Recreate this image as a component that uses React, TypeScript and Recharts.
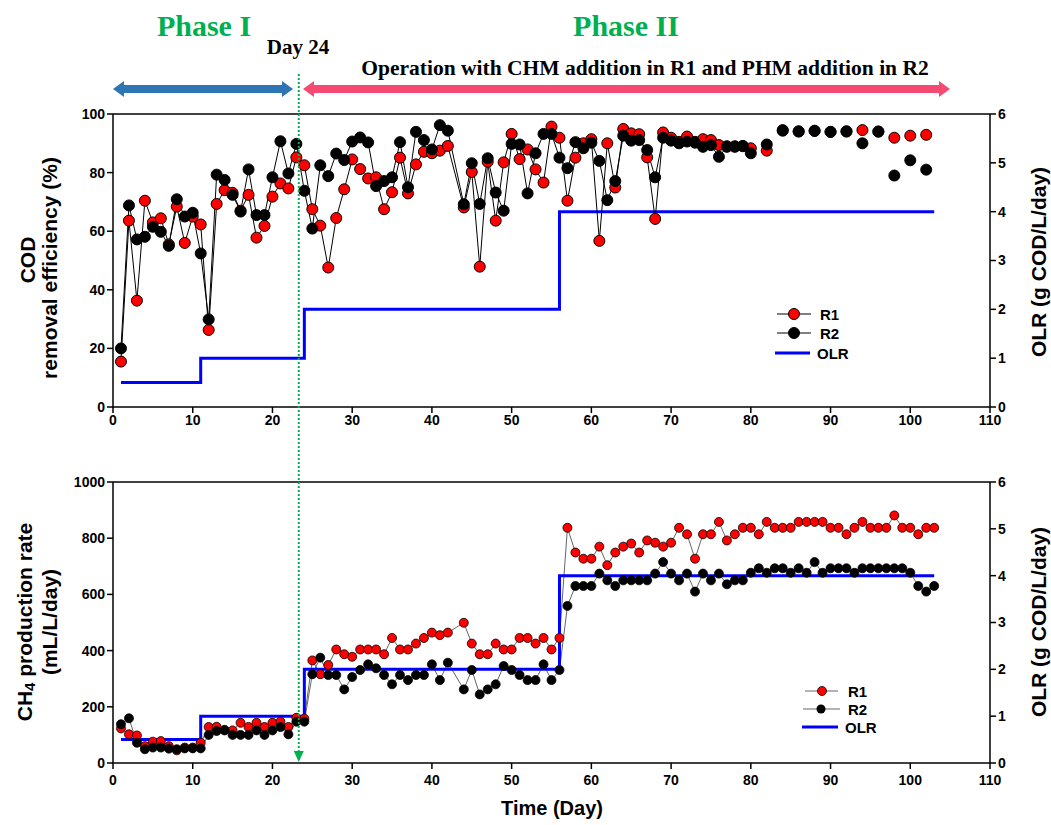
import { ComposedChart, Line, XAxis, YAxis, ReferenceLine } from "recharts";

// ---- data ----
// COD removal efficiency (%), connected part: day 1..80 (no sample on day 43)
const codDays = [
  1, 2, 3, 4, 5, 6, 7, 8, 9, 10, 11, 12, 13, 14, 15, 16, 17, 18, 19, 20, 21, 22, 23, 24, 25, 26, 27, 28, 29, 30,
  31, 32, 33, 34, 35, 36, 37, 38, 39, 40, 41, 42, 44, 45, 46, 47, 48, 49, 50, 51, 52, 53, 54, 55, 56, 57, 58, 59, 60,
  61, 62, 63, 64, 65, 66, 67, 68, 69, 70, 71, 72, 73, 74, 75, 76, 77, 78, 79, 80,
];
const codR1 = [
  15.5, 63.6, 36.3, 70.4, 63, 64.4, 55.5, 68.4, 56, 65, 62.3, 26.3, 69.3, 74, 73.1, 67, 72.4, 57.8, 61.8, 71.8, 76.3,
  74.6, 85.2, 82.5, 67.5, 61.9, 47.6, 64.5, 74.3, 84.5, 81.2, 78, 78.4, 67.5, 73.3, 85.1, 72.9, 82.8, 87.1, 86.6, 87.5,
  89.1, 68.1, 80.2, 47.9, 83.7, 63.6, 83.5, 93.2, 84.6, 87.9, 81.1, 76.6, 95.7, 91.9, 70.4, 85.1, 90, 91.4, 56.7, 90,
  74.9, 94.9, 93.4, 93.1, 85.2, 64.2, 93.7, 91.9, 90.5, 92.3, 90.5, 91.4, 91.1, 89.4, 89, 89, 89, 88.3,
];
const codR2 = [
  20, 68.8, 57.2, 58.1, 61.5, 59.8, 55, 70.9, 65, 66.3, 52.4, 29.9, 79.3, 77.5, 72.4, 66.7, 81.1, 65.5, 65.5, 78.4,
  90.7, 79.7, 89.8, 73.8, 60.9, 82.5, 78.8, 86.5, 84.3, 90.6, 92, 90.3, 75.4, 77.1, 78.4, 90.4, 75, 93.9, 91.1, 87.9,
  96.2, 94.3, 69.2, 83.2, 69.3, 84.9, 73.2, 67, 89.8, 89.6, 72.9, 86.6, 93.2, 93.2, 85.1, 81.5, 90.4, 88.3, 90.2, 84,
  70.6, 77.1, 92.6, 90.9, 91.1, 87.7, 78.4, 91.9, 90.9, 90, 90.6, 90.2, 88.8, 89.4, 85.4, 88.8, 88.8, 89.1, 86.6,
];
// separate samples after day 80 (not joined by lines)
const codLateDays = [82, 84, 86, 88, 90, 92, 94, 96, 98, 100, 102];
const codLateR1 = [87.5, 94.5, 94, 94.2, 93.9, 94, 94.5, 94, 91.9, 92.6, 92.9];
const codLateR2 = [89.6, 94.3, 94.1, 94.3, 93.9, 94.1, 90, 94, 79, 84.2, 81];

// CH4 production rate (mL/L/day): day 1..103 (no sample on day 43)
const ch4Days = [
  1, 2, 3, 4, 5, 6, 7, 8, 9, 10, 11, 12, 13, 14, 15, 16, 17, 18, 19, 20, 21, 22, 23, 24, 25, 26, 27, 28, 29, 30,
  31, 32, 33, 34, 35, 36, 37, 38, 39, 40, 41, 42, 44, 45, 46, 47, 48, 49, 50, 51, 52, 53, 54, 55, 56, 57, 58, 59, 60,
  61, 62, 63, 64, 65, 66, 67, 68, 69, 70, 71, 72, 73, 74, 75, 76, 77, 78, 79, 80, 81, 82, 83, 84, 85, 86, 87, 88, 89,
  90, 91, 92, 93, 94, 95, 96, 97, 98, 99, 100, 101, 102, 103,
];
const ch4R1 = [
  123, 102, 98, 60, 76, 78, 60, 45, 55, 55, 72, 128, 129, 118, 116, 143, 128, 143, 128, 143, 147, 128, 161, 158, 365,
  316, 349, 404, 387, 378, 404, 404, 404, 387, 445, 404, 404, 425, 445, 464, 455, 464, 499, 425, 387, 387, 425, 404,
  404, 445, 445, 425, 445, 404, 445, 837, 749, 727, 727, 770, 704, 749, 770, 781, 749, 792, 784, 770, 784, 837, 814,
  727, 814, 814, 858, 792, 814, 837, 837, 814, 858, 837, 837, 837, 858, 858, 858, 858, 837, 837, 814, 837, 858, 837,
  837, 837, 881, 837, 837, 814, 837, 837,
];
const ch4R2 = [
  138, 159, 72, 49, 55, 55, 51, 49, 52, 52, 52, 100, 114, 116, 100, 100, 100, 116, 100, 116, 128, 102, 147, 147, 316,
  375, 313, 313, 262, 306, 331, 351, 337, 313, 280, 313, 295, 313, 313, 351, 295, 357, 262, 331, 244, 262, 280, 345,
  331, 313, 295, 295, 351, 295, 331, 559, 630, 630, 630, 674, 650, 630, 650, 650, 650, 650, 674, 715, 674, 650, 674,
  610, 674, 650, 674, 636, 650, 650, 677, 693, 677, 693, 693, 677, 693, 677, 715, 677, 693, 693, 693, 677, 693, 693,
  693, 693, 693, 693, 677, 630, 610, 630,
];

// organic loading rate steps (g COD/L/day)
const olrDays = [1, 11, 24, 56, 103];
const olrValues = [0.5, 1, 2, 4, 4];

const xTicks = [0, 10, 20, 30, 40, 50, 60, 70, 80, 90, 100, 110];
const codTicks = [0, 20, 40, 60, 80, 100];
const ch4Ticks = [0, 200, 400, 600, 800, 1000];
const olrTicks = [0, 1, 2, 3, 4, 5, 6];

const PHASE2_START = 23.3; // dotted marker "Day 24"

const zip = (days: number[], vals: number[]) => days.map((day, i) => ({ day, v: vals[i] }));

const codR1Data = zip(codDays, codR1);
const codR2Data = zip(codDays, codR2);
const codLateR1Data = zip(codLateDays, codLateR1);
const codLateR2Data = zip(codLateDays, codLateR2);
const ch4R1Data = zip(ch4Days, ch4R1);
const ch4R2Data = zip(ch4Days, ch4R2);
const olrData = zip(olrDays, olrValues);

// ---- layout ----
const W = 1051;
const PLOT_L = 113;
const PLOT_R = 990;
const AXIS_W = 60;
const sans = "'Liberation Sans', Arial, sans-serif";
const serif = "'Liberation Serif', 'Times New Roman', serif";
const tickStyle = { fill: "#000", fontSize: 14, fontWeight: "bold", fontFamily: sans };
const dayToX = (d: number) => PLOT_L + ((PLOT_R - PLOT_L) * d) / 110;

function arrow(x1: number, x2: number, y: number) {
  const s = 4, h = 8, L = 11;
  return `M${x1},${y} L${x1 + L},${y - h} L${x1 + L},${y - s} L${x2 - L},${y - s} L${x2 - L},${y - h} L${x2},${y} L${x2 - L},${y + h} L${x2 - L},${y + s} L${x1 + L},${y + s} L${x1 + L},${y + h} Z`;
}

export default function App() {
  const axisProps = { stroke: "#000", strokeWidth: 1.5, tickSize: 6 };
  const markX = dayToX(PHASE2_START);

  return (
    <div style={{ position: "absolute", left: 0, top: 0, width: W, height: 825, background: "#fff" }}>
      {/* COD removal efficiency */}
      <div style={{ position: "absolute", left: 0, top: 0 }}>
        <ComposedChart width={W} height={440} margin={{ top: 114, right: 1, bottom: 3, left: PLOT_L - AXIS_W }}>
          <XAxis
            type="number"
            dataKey="day"
            domain={[0, 110]}
            ticks={xTicks}
            height={30}
            tick={tickStyle}
            tickMargin={2}
            {...axisProps}
          />
          <YAxis yAxisId="left" domain={[0, 100]} ticks={codTicks} width={AXIS_W} tick={tickStyle} {...axisProps} />
          <YAxis
            yAxisId="right"
            orientation="right"
            domain={[0, 6]}
            ticks={olrTicks}
            width={AXIS_W}
            tick={tickStyle}
            {...axisProps}
          />
          <ReferenceLine yAxisId="left" y={100} stroke="#000" strokeWidth={1.5} />
          <Line
            yAxisId="right"
            data={olrData}
            dataKey="v"
            type="stepAfter"
            stroke="#0000ff"
            strokeWidth={3}
            dot={false}
            activeDot={false}
            isAnimationActive={false}
          />
          <Line
            yAxisId="left"
            data={codR1Data}
            dataKey="v"
            stroke="#000"
            strokeWidth={1}
            dot={{ r: 5.5, fill: "#ff0000", stroke: "#000", strokeWidth: 1 }}
            activeDot={false}
            isAnimationActive={false}
          />
          <Line
            yAxisId="left"
            data={codR2Data}
            dataKey="v"
            stroke="#000"
            strokeWidth={1}
            dot={{ r: 5.5, fill: "#000", stroke: "#000", strokeWidth: 1 }}
            activeDot={false}
            isAnimationActive={false}
          />
          <Line
            yAxisId="left"
            data={codLateR1Data}
            dataKey="v"
            stroke="none"
            dot={{ r: 5.5, fill: "#ff0000", stroke: "#000", strokeWidth: 1 }}
            activeDot={false}
            isAnimationActive={false}
          />
          <Line
            yAxisId="left"
            data={codLateR2Data}
            dataKey="v"
            stroke="none"
            dot={{ r: 5.5, fill: "#000", stroke: "#000", strokeWidth: 1 }}
            activeDot={false}
            isAnimationActive={false}
          />
        </ComposedChart>
      </div>

      {/* CH4 production rate */}
      <div style={{ position: "absolute", left: 0, top: 440 }}>
        <ComposedChart width={W} height={385} margin={{ top: 42, right: 1, bottom: 32, left: PLOT_L - AXIS_W }}>
          <XAxis
            type="number"
            dataKey="day"
            domain={[0, 110]}
            ticks={xTicks}
            height={30}
            tick={tickStyle}
            tickMargin={6}
            {...axisProps}
          />
          <YAxis yAxisId="left" domain={[0, 1000]} ticks={ch4Ticks} width={AXIS_W} tick={tickStyle} {...axisProps} />
          <YAxis
            yAxisId="right"
            orientation="right"
            domain={[0, 6]}
            ticks={olrTicks}
            width={AXIS_W}
            tick={tickStyle}
            {...axisProps}
          />
          <ReferenceLine yAxisId="left" y={1000} stroke="#000" strokeWidth={1.5} />
          <Line
            yAxisId="left"
            data={ch4R1Data}
            dataKey="v"
            stroke="#666"
            strokeWidth={1}
            dot={{ r: 4.5, fill: "#ff0000", stroke: "#000", strokeWidth: 0.8 }}
            activeDot={false}
            isAnimationActive={false}
          />
          <Line
            yAxisId="left"
            data={ch4R2Data}
            dataKey="v"
            stroke="#666"
            strokeWidth={1}
            dot={{ r: 4.5, fill: "#000", stroke: "#000", strokeWidth: 0.8 }}
            activeDot={false}
            isAnimationActive={false}
          />
          <Line
            yAxisId="right"
            data={olrData}
            dataKey="v"
            type="stepAfter"
            stroke="#0000ff"
            strokeWidth={3}
            dot={false}
            activeDot={false}
            isAnimationActive={false}
          />
        </ComposedChart>
      </div>

      {/* annotations, titles and legends */}
      <svg width={W} height={825} style={{ position: "absolute", left: 0, top: 0, pointerEvents: "none" }}>
        <text x={204} y={36} textAnchor="middle" fontFamily={serif} fontWeight="bold" fontSize={30} fill="#00b050">
          Phase I
        </text>
        <text x={626} y={36} textAnchor="middle" fontFamily={serif} fontWeight="bold" fontSize={30} fill="#00b050">
          Phase II
        </text>
        <text x={298} y={54} textAnchor="middle" fontFamily={serif} fontWeight="bold" fontSize={21} fill="#000">
          Day 24
        </text>
        <text x={645} y={75} textAnchor="middle" fontFamily={serif} fontWeight="bold" fontSize={21.5} fill="#000">
          Operation with CHM addition in R1 and PHM addition in R2
        </text>
        <path d={arrow(113, 293, 89)} fill="#2e75b6" />
        <path d={arrow(303, 950, 89)} fill="#f74a72" />

        <line x1={markX} y1={74} x2={markX} y2={752} stroke="#00b050" strokeWidth={2} strokeDasharray="2 2" />
        <polygon points={`${markX - 5},${751} ${markX + 5},${751} ${markX},${762}`} fill="#00b050" />

        {/* axis titles */}
        <g fontFamily={sans} fontWeight="bold" fontSize={21} fill="#000" textAnchor="middle">
          <text transform="translate(27,260) rotate(-90)" dominantBaseline="central">COD</text>
          <text transform="translate(49,268) rotate(-90)" dominantBaseline="central">removal efficiency (%)</text>
          <text transform="translate(1038,262) rotate(-90)" dominantBaseline="central">OLR (g COD/L/day)</text>
          <text transform="translate(24,622) rotate(-90)" dominantBaseline="central">
            CH<tspan fontSize={15} dy={5}>4</tspan>
            <tspan dy={-5}> production rate</tspan>
          </text>
          <text transform="translate(49,622) rotate(-90)" dominantBaseline="central">(mL/L/day)</text>
          <text transform="translate(1038,622) rotate(-90)" dominantBaseline="central">OLR (g COD/L/day)</text>
          <text x={552} y={815} fontSize={20}>Time (Day)</text>
        </g>

        {/* legend, COD chart */}
        <g fontFamily={sans} fontWeight="bold" fontSize={15} fill="#000">
          <line x1={777} y1={314} x2={811} y2={314} stroke="#000" strokeWidth={1} />
          <circle cx={794} cy={314} r={5.5} fill="#ff0000" stroke="#000" />
          <text x={820} y={314} dominantBaseline="central">R1</text>
          <line x1={777} y1={333} x2={811} y2={333} stroke="#000" strokeWidth={1} />
          <circle cx={794} cy={333} r={5.5} fill="#000" stroke="#000" />
          <text x={820} y={333} dominantBaseline="central">R2</text>
          <line x1={775} y1={353} x2={810} y2={353} stroke="#0000ff" strokeWidth={3} />
          <text x={817} y={353} dominantBaseline="central">OLR</text>
        </g>

        {/* legend, CH4 chart */}
        <g fontFamily={sans} fontWeight="bold" fontSize={15} fill="#000">
          <line x1={805} y1={691} x2={838} y2={691} stroke="#666" strokeWidth={1} />
          <circle cx={822} cy={691} r={4.5} fill="#ff0000" stroke="#000" strokeWidth={0.8} />
          <text x={848} y={691} dominantBaseline="central">R1</text>
          <line x1={803} y1={709} x2={840} y2={709} stroke="#666" strokeWidth={1} />
          <circle cx={821} cy={709} r={4.5} fill="#000" />
          <text x={848} y={709} dominantBaseline="central">R2</text>
          <line x1={802} y1={727} x2={838} y2={727} stroke="#0000ff" strokeWidth={3} />
          <text x={845} y={727} dominantBaseline="central">OLR</text>
        </g>
      </svg>
    </div>
  );
}
